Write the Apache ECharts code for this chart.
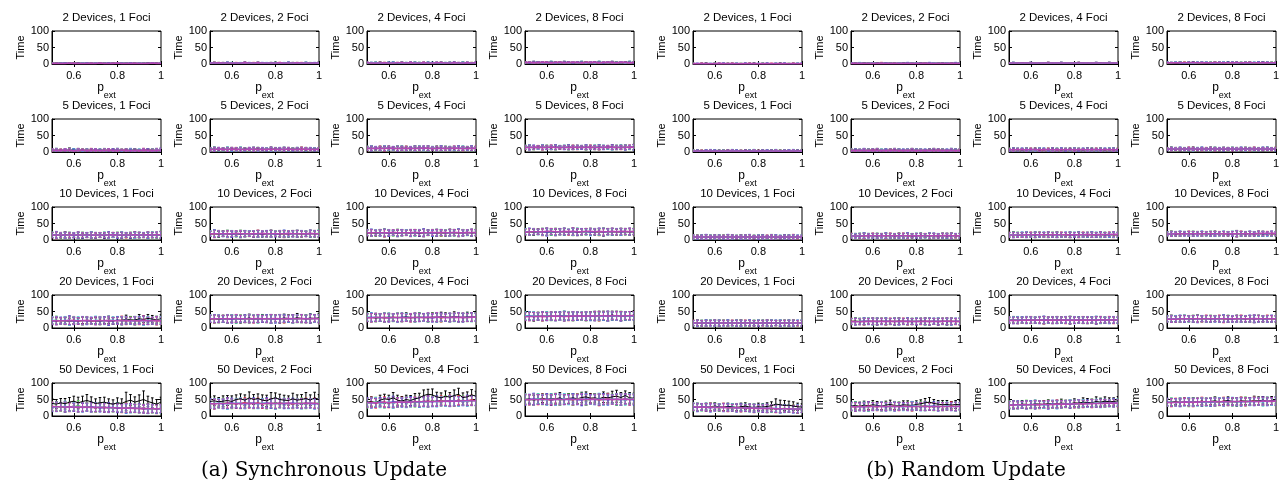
<!DOCTYPE html>
<html><head><meta charset="utf-8">
<script src="https://cdn.jsdelivr.net/npm/echarts@6/dist/echarts.min.js"></script>
<style>html,body{margin:0;padding:0;background:#fff}#c{width:1283px;height:487px}</style>
</head><body><div id="c"></div>
<script>
// ---------- data ----------
const X = [0.50,0.52,0.54,0.56,0.58,0.60,0.62,0.64,0.66,0.68,0.70,0.72,0.74,0.76,0.78,0.80,0.82,0.84,0.86,0.88,0.90,0.92,0.94,0.96,0.98,1.00];
const X_TICKS = [0.6,0.8,1];
const Y_TICKS = [0,50,100];
const DEVICES = [2,5,10,20,50];
const FOCI = [1,2,4,8];
const GROUP_CAPTIONS = ['(a) Synchronous Update','(b) Random Update'];
// series order in every panel: black, red, green, blue, cyan, magenta
// ----- Synchronous update -----
const S2_1 = [[2,2,3,2,2,2,3,2,2,2,2,3,2,2,2,2,3,2,2,2,2,2,3,2,2,2],[2,3,2,2,2,3,2,2,2,3,2,2,2,2,3,2,2,2,2,3,2,2,2,2,3,2],[3,2,2,2,3,2,2,3,2,2,2,2,3,2,2,2,2,3,2,2,2,3,2,2,2,2],[2,2,2,3,2,2,2,2,3,2,2,2,2,3,2,2,2,2,3,2,2,2,2,3,2,2],[2,2,3,2,2,2,2,3,2,2,3,2,2,2,2,2,3,2,2,2,3,2,2,2,2,3],[2,2,2,2,3,2,2,2,2,2,2,3,2,2,2,3,2,2,2,2,2,2,2,3,2,2]];
const S2_1e = [1,1,1,1,1,1,1,1,1,1,1,1,1,1,1,1,1,1,1,1,1,1,1,1,1,1];
const S2_2 = [[3,3,3,4,3,3,3,3,4,3,3,3,3,3,4,3,3,3,3,4,3,3,3,3,3,4],[3,4,3,3,3,3,4,3,3,3,4,3,3,3,3,3,4,3,3,3,3,4,3,3,3,3],[3,3,4,3,3,4,3,3,3,3,3,4,3,3,3,4,3,3,3,3,4,3,3,4,3,3],[4,3,3,3,4,3,3,3,3,4,3,3,4,3,3,3,3,3,4,3,3,3,3,3,4,3],[3,3,3,3,3,4,3,4,3,3,3,3,3,4,3,3,3,4,3,3,3,3,4,3,3,3],[3,3,4,3,3,3,3,3,4,3,3,4,3,3,3,3,4,3,3,3,4,3,3,3,3,3]];
const S2_2e = [1,2,1,1,2,1,1,1,2,1,1,2,1,1,1,2,1,1,2,1,1,1,2,1,1,2];
const S2_4 = [[3,4,3,4,3,3,4,3,4,3,3,4,4,3,3,4,3,4,3,3,4,3,4,3,3,4],[4,3,3,4,4,3,3,4,3,3,4,3,3,4,3,3,4,3,3,4,3,4,3,4,4,3],[3,3,4,3,4,4,3,3,4,4,3,3,4,3,4,3,3,4,4,3,3,3,4,3,4,3],[4,4,3,3,3,4,4,3,3,4,4,3,3,3,4,4,3,3,4,3,4,4,3,3,3,4],[3,4,4,3,3,3,4,4,3,3,3,4,4,3,3,4,4,3,3,4,3,3,4,4,3,3],[4,3,3,3,4,3,3,4,4,3,4,3,3,4,3,3,4,4,3,3,4,3,3,4,3,4]];
const S2_4e = [2,1,2,2,1,2,2,1,2,1,2,2,1,2,2,1,2,2,1,2,2,1,2,2,1,2];
const S2_8 = [[5,4,5,5,4,5,5,5,4,5,5,4,5,5,5,4,5,5,4,5,5,5,4,5,5,4],[4,5,5,4,5,5,4,5,5,5,4,5,5,4,5,5,5,4,5,5,4,5,5,5,4,5],[5,5,4,5,5,4,5,5,5,4,5,5,4,5,5,5,4,5,5,4,5,5,4,5,5,5],[5,4,5,5,5,4,5,4,5,5,5,4,5,5,4,5,5,5,4,5,5,4,5,5,5,4],[4,5,5,5,4,5,5,5,4,5,4,5,5,5,4,5,4,5,5,5,4,5,5,4,5,5],[5,5,4,5,5,5,4,5,5,4,5,5,5,4,5,5,5,4,5,5,5,4,5,5,4,5]];
const S2_8e = [2,2,3,2,2,2,3,2,2,3,2,2,2,3,2,2,2,3,2,2,3,2,2,2,3,2];
const S5_1 = [[5,6,5,4,6,5,5,6,4,5,5,6,5,4,5,6,5,5,4,6,5,5,6,5,4,5],[4,5,6,5,5,4,6,5,5,6,4,5,5,6,5,4,5,6,5,5,4,6,5,5,6,5],[6,5,4,5,6,5,4,5,6,5,5,4,6,5,5,5,6,4,5,6,5,4,5,6,5,5],[5,4,5,6,5,6,5,4,5,5,6,5,4,5,6,5,4,5,6,5,5,5,6,4,5,6],[5,6,5,5,4,5,6,5,5,4,5,6,5,5,4,6,5,5,5,4,6,5,4,5,6,5],[6,5,5,6,5,4,5,6,5,5,6,5,5,6,5,5,6,5,4,5,5,6,5,5,5,6]];
const S5_1e = [4,5,3,4,6,4,5,3,4,5,4,3,5,4,4,5,3,4,5,4,3,5,4,4,5,6];
const S5_2 = [[8,9,7,8,8,9,8,7,9,8,8,9,7,8,9,8,8,7,9,8,9,8,7,8,9,8],[7,8,8,9,7,8,9,8,8,7,9,8,8,9,7,8,8,9,7,8,8,9,8,7,8,9],[9,8,8,7,9,8,7,9,8,8,7,9,8,8,8,9,7,8,8,9,7,8,9,8,8,7],[8,7,9,8,8,7,8,8,7,9,8,8,9,7,8,8,9,8,8,7,8,8,8,9,7,8],[8,9,8,8,9,8,8,9,8,8,9,7,8,9,8,7,8,9,8,8,9,7,8,8,9,8],[8,8,9,8,8,9,8,8,8,9,8,8,8,8,9,8,8,8,9,8,8,8,9,8,8,8]];
const S5_2e = [5,6,5,4,6,5,5,6,4,5,6,5,5,4,6,5,5,6,5,4,5,6,5,5,4,5];
const S5_4 = [[11,12,10,11,11,12,10,11,12,11,10,11,12,11,11,10,12,11,11,12,10,11,11,12,11,10],[10,11,11,12,10,11,11,10,11,12,11,10,11,11,12,10,11,11,10,11,12,11,10,11,11,12],[12,11,10,11,12,10,11,12,10,11,11,12,10,11,10,12,11,10,12,11,11,10,12,11,10,11],[11,10,12,11,11,11,12,10,11,10,12,11,11,12,11,11,10,12,11,10,11,12,11,10,12,11],[11,12,11,10,12,11,10,11,12,11,11,10,12,10,11,12,11,11,10,12,11,11,12,11,11,10],[11,11,11,11,11,12,11,11,11,11,11,11,11,12,11,11,11,11,11,11,12,11,11,11,11,11]];
const S5_4e = [6,7,5,6,7,6,5,7,6,6,5,7,6,6,7,5,6,7,6,5,6,7,6,5,7,6];
const S5_8 = [[14,15,13,14,15,14,13,15,14,14,15,13,14,15,14,14,13,15,14,15,14,13,15,14,14,15],[13,14,14,15,13,14,15,14,13,14,14,15,13,14,14,15,14,13,14,14,15,14,13,14,15,14],[15,14,13,14,14,15,14,13,15,14,13,14,15,14,13,14,15,14,14,13,14,15,14,15,13,14],[14,13,15,14,14,13,14,15,14,13,15,14,14,13,15,14,14,15,13,14,15,14,14,13,14,15],[14,15,14,13,15,14,14,14,15,15,14,14,14,15,14,13,15,14,15,14,13,14,15,14,14,13],[14,14,14,14,14,14,15,14,14,14,14,14,15,14,14,14,14,14,14,15,14,14,14,14,15,14]];
const S5_8e = [6,7,6,5,7,6,6,7,5,6,7,6,6,5,7,6,6,7,6,5,7,6,6,7,6,8];
const S10_1 = [[14,15,13,16,14,15,14,13,15,16,14,15,13,14,16,15,14,15,13,16,15,14,15,16,14,16],[15,14,16,15,13,14,16,15,14,15,13,16,15,14,15,14,16,13,15,14,16,15,14,15,16,15],[16,15,14,14,16,15,13,16,15,14,15,14,16,15,14,16,15,14,16,15,14,15,16,14,15,17],[15,16,15,14,15,13,15,14,16,15,14,15,14,16,15,13,15,16,14,15,15,16,14,15,16,15],[16,15,16,15,14,16,15,15,14,16,15,15,16,14,15,15,16,15,15,14,16,15,15,16,15,16],[15,15,15,15,15,15,15,15,15,15,15,15,15,15,16,15,15,15,15,16,15,15,16,15,16,16]];
const S10_1e = [8,10,7,9,8,7,9,8,7,9,8,7,8,9,7,8,9,7,8,9,8,7,9,8,8,10];
const S10_2 = [[18,19,17,20,18,19,18,17,19,20,18,19,17,18,20,19,18,19,17,20,19,18,19,20,18,19],[19,18,20,19,17,18,20,19,18,19,17,20,19,18,19,18,20,17,19,18,20,19,18,19,20,19],[20,19,18,18,20,19,17,20,19,18,19,18,20,19,18,20,19,18,20,19,18,19,20,18,19,21],[19,20,19,18,19,17,19,18,20,19,18,19,18,20,19,17,19,20,18,19,19,20,18,19,20,19],[20,19,20,19,18,20,19,19,18,20,19,19,20,18,19,19,20,19,19,18,20,19,19,20,19,20],[19,19,19,19,19,19,20,19,19,19,19,19,20,19,19,19,19,19,20,19,19,19,19,20,19,19]];
const S10_2e = [8,11,9,8,10,9,8,10,9,8,9,10,8,9,10,8,9,10,8,9,10,9,8,10,9,10];
const S10_4 = [[21,22,20,23,21,22,21,20,22,23,21,22,20,21,23,22,21,22,20,23,22,21,22,23,21,22],[22,21,23,22,20,21,23,22,21,22,20,23,22,21,22,21,23,20,22,21,23,22,21,22,23,22],[23,22,21,21,23,22,20,23,22,21,22,21,23,22,21,23,22,21,23,22,21,22,23,21,22,24],[22,23,22,21,22,20,22,21,23,22,21,22,21,23,22,20,22,23,21,22,22,23,21,22,23,22],[23,22,23,22,21,23,22,22,21,23,22,22,23,21,22,22,23,22,22,21,23,22,22,23,22,23],[22,22,22,22,22,22,23,22,22,22,22,23,22,22,22,23,22,23,22,22,23,22,22,23,22,23]];
const S10_4e = [9,10,8,9,11,9,8,10,9,8,10,9,9,11,8,9,10,9,8,10,9,11,9,8,10,9];
const S10_8 = [[24,25,23,26,24,25,24,23,25,26,24,25,23,24,26,25,24,25,23,26,25,24,25,26,24,25],[25,24,26,25,23,24,26,25,24,25,23,26,25,24,25,24,26,23,25,24,26,25,24,25,26,25],[26,25,24,24,26,25,23,26,25,24,25,24,26,25,24,26,25,24,26,25,24,25,26,24,25,27],[25,26,25,24,25,23,25,24,26,25,24,25,24,26,25,23,25,26,24,25,25,26,24,25,26,25],[26,25,26,25,24,26,25,25,24,26,25,25,26,24,25,25,26,25,25,24,26,25,25,26,25,26],[24,25,25,25,25,26,26,25,25,26,25,26,25,25,26,26,25,26,25,25,26,25,26,26,25,26]];
const S10_8e = [9,10,9,8,10,11,9,10,9,10,8,11,10,9,9,10,9,10,11,9,10,9,10,9,10,9];
const S20_1 = [[22,21,23,22,20,22,21,23,22,21,22,20,23,22,21,24,23,27,25,24,28,26,29,27,25,28],[23,22,21,23,22,24,21,22,23,21,22,24,22,21,23,22,24,21,23,22,21,24,22,23,21,22],[22,24,22,21,23,22,23,21,24,22,23,21,22,24,22,23,21,22,24,21,23,22,23,21,24,23],[21,22,23,22,24,21,22,23,21,23,22,22,23,21,22,24,22,23,21,22,24,23,21,22,23,22],[24,23,22,24,21,23,24,22,23,22,24,23,21,23,24,22,23,24,22,23,22,21,24,23,22,24],[22,22,22,22,23,22,22,22,23,22,22,22,22,23,22,22,22,23,22,22,22,23,22,22,23,22]];
const S20_1e = [11,12,10,11,13,11,10,12,11,10,12,11,11,13,10,11,12,11,10,12,11,13,11,10,12,11];
const S20_1ke = [9,10,8,9,10,9,8,10,9,8,9,10,9,8,10,9,11,12,10,11,13,10,12,11,10,12];
const S20_2 = [[27,28,26,28,27,29,28,27,28,30,28,27,29,28,27,29,28,30,29,28,31,29,28,30,29,31],[28,27,29,28,26,27,29,28,27,28,26,29,28,27,28,27,29,26,28,27,29,28,27,28,29,28],[29,28,27,27,29,28,26,29,28,27,28,27,29,28,27,29,28,27,29,28,27,28,29,27,28,30],[28,29,28,27,28,26,28,27,29,28,27,28,27,29,28,26,28,29,27,28,28,29,27,28,29,28],[29,28,29,28,27,29,28,28,27,29,28,28,29,27,28,28,29,28,28,27,29,28,28,29,28,29],[28,28,28,28,28,28,29,28,28,28,28,29,28,28,28,29,28,28,29,28,28,29,28,28,29,28]];
const S20_2e = [11,12,11,10,12,11,12,10,11,12,11,12,10,11,13,11,12,11,10,12,11,12,11,13,11,12];
const S20_2ke = [11,12,10,11,12,11,10,12,11,12,11,10,12,11,12,11,13,12,11,12,13,11,12,13,12,13];
const S20_4 = [[31,32,30,32,31,33,32,31,32,34,32,31,33,32,31,33,32,34,33,32,35,33,32,34,33,35],[32,31,33,32,30,31,33,32,31,32,30,33,32,31,32,31,33,30,32,31,33,32,31,32,33,32],[33,32,31,31,33,32,30,33,32,31,32,31,33,32,31,33,32,31,33,32,31,32,33,31,32,34],[32,33,32,31,32,30,32,31,33,32,31,32,31,33,32,30,32,33,31,32,32,33,31,32,33,32],[33,32,33,32,31,33,32,32,31,33,32,32,33,31,32,32,33,32,32,31,33,32,32,33,32,33],[31,31,32,32,32,31,32,32,32,31,32,32,32,32,33,32,33,33,32,32,33,32,33,32,33,33]];
const S20_4e = [12,13,12,11,13,12,11,13,12,11,12,13,12,11,13,12,14,12,11,13,12,14,13,12,13,12];
const S20_4ke = [11,12,11,12,13,12,11,12,13,12,11,12,13,12,12,13,12,14,13,12,14,13,12,14,13,12];
const S20_8 = [[35,36,34,36,35,37,36,35,36,38,36,35,37,36,35,37,36,38,37,36,39,37,36,38,37,39],[36,35,37,36,34,35,37,36,35,36,34,37,36,35,36,35,37,34,36,35,37,36,35,36,37,36],[37,36,35,35,37,36,34,37,36,35,36,35,37,36,35,37,36,35,37,36,35,36,37,35,36,38],[36,37,36,35,36,34,36,35,37,36,35,36,35,37,36,34,36,37,35,36,36,37,35,36,37,36],[37,36,37,36,35,37,36,36,35,37,36,36,37,35,36,36,37,36,36,35,37,36,36,37,36,37],[34,35,35,35,36,35,36,36,36,35,36,36,37,36,36,37,36,37,37,36,37,37,36,37,37,38]];
const S20_8e = [12,13,12,11,13,12,12,13,12,14,12,13,12,11,13,12,14,13,12,15,12,13,14,12,13,12];
const S20_8ke = [12,12,13,12,13,12,12,13,12,13,12,13,12,12,13,13,12,13,14,13,12,14,13,12,13,14];
const S50_1 = [[38,36,40,37,42,45,40,44,47,43,38,40,42,38,36,40,38,44,48,42,46,50,44,40,36,42],[30,28,27,29,26,28,25,27,28,26,25,27,24,26,25,24,22,25,23,24,22,21,23,22,20,22],[28,30,27,26,29,27,33,26,28,27,25,26,27,25,24,26,23,25,24,22,23,24,22,21,23,22],[26,28,29,27,28,26,27,25,26,28,27,24,25,27,26,23,24,22,25,23,24,21,22,23,21,22],[29,27,28,30,27,29,26,28,27,25,26,28,26,24,25,27,24,23,22,24,22,23,21,22,22,21],[28,28,28,27,28,27,27,27,27,26,26,26,26,25,25,25,24,24,24,23,23,23,22,22,22,22]];
const S50_1e = [13,14,12,15,13,12,14,13,12,14,13,12,13,14,12,13,12,14,13,12,13,12,14,12,13,12];
const S50_1ke = [15,14,13,16,14,15,17,16,18,15,14,16,15,14,13,15,14,28,17,16,18,26,16,15,14,15];
const S50_2 = [[44,46,43,45,47,44,50,52,48,55,50,53,48,46,52,55,50,48,47,52,48,50,53,48,55,50],[38,36,39,37,40,38,36,39,41,37,38,40,36,39,38,37,40,39,38,36,39,37,40,38,39,37],[36,39,37,40,38,36,39,37,38,40,37,38,39,36,38,40,37,38,39,37,38,40,36,39,38,40],[39,37,38,36,39,40,37,38,36,38,40,37,38,40,37,38,39,36,38,40,37,38,39,37,36,38],[37,38,40,38,36,38,39,40,37,39,38,36,40,38,39,36,38,40,37,38,39,36,38,40,37,39],[37,37,38,38,38,38,38,38,38,39,38,38,38,38,39,38,38,38,39,38,38,38,38,39,38,38]];
const S50_2e = [14,15,13,14,16,14,13,15,14,13,15,14,13,15,14,16,13,14,15,14,13,15,14,13,15,14];
const S50_2ke = [14,15,13,16,15,17,14,15,16,18,15,14,16,17,19,15,16,15,14,17,16,15,18,16,17,15];
const S50_4 = [[42,44,40,48,52,50,55,48,45,50,47,52,55,62,66,64,58,55,60,57,62,66,56,58,64,60],[40,42,38,41,43,39,42,40,44,41,43,45,42,44,46,43,45,48,44,47,45,48,46,47,49,47],[38,41,43,40,39,42,40,43,41,44,42,40,45,43,42,46,44,43,47,45,44,46,48,46,45,48],[42,39,40,43,41,40,44,42,40,42,45,43,41,44,45,42,46,44,45,46,47,45,44,48,46,47],[39,40,42,38,40,43,39,41,43,40,41,44,42,41,43,44,42,45,43,44,46,43,45,44,47,46],[40,40,40,41,41,41,41,42,42,42,42,43,43,43,43,44,44,44,45,45,45,45,46,46,46,46]];
const S50_4e = [14,15,14,13,15,14,16,14,13,15,14,13,15,14,16,14,15,13,14,16,15,14,13,15,14,15];
const S50_4ke = [12,14,13,15,14,13,16,15,14,13,15,16,14,17,15,18,14,15,16,14,17,18,14,15,16,15];
const S50_8 = [[50,52,48,51,54,50,53,52,55,50,53,55,52,56,58,54,55,52,57,55,58,60,56,62,55,54],[50,48,51,49,52,50,47,51,49,52,50,48,53,50,49,52,51,48,50,53,49,51,50,52,49,51],[52,50,49,53,48,51,50,52,48,50,53,49,51,52,48,50,52,49,51,50,52,48,51,49,52,50],[48,51,52,50,49,52,48,50,51,49,51,52,49,48,52,51,49,50,52,48,51,50,49,52,50,48],[51,49,50,52,51,48,52,49,50,53,48,50,51,52,50,49,51,52,48,51,50,52,50,48,51,52],[50,50,50,50,50,50,50,51,50,50,51,50,50,51,50,50,51,50,50,51,50,51,50,51,50,51]];
const S50_8e = [16,15,17,15,14,16,15,17,16,15,14,16,15,17,16,14,15,17,16,15,14,16,17,15,16,15];
const S50_8ke = [14,13,15,14,13,15,14,13,16,14,15,13,14,16,15,14,13,15,16,14,17,18,15,14,16,15];
// ----- Random update -----
const R2_1 = [[1,1,1,2,1,1,1,1,2,1,1,1,1,1,2,1,1,1,1,1,2,1,1,1,1,1],[1,1,2,1,1,1,1,1,1,2,1,1,1,2,1,1,1,1,2,1,1,1,1,2,1,1],[2,1,1,1,1,2,1,1,1,1,1,2,1,1,1,1,2,1,1,1,1,1,2,1,1,1],[1,2,1,1,1,1,1,2,1,1,1,1,2,1,1,1,1,2,1,1,1,2,1,1,1,2],[1,1,1,1,2,1,1,1,1,1,2,1,1,1,1,2,1,1,1,2,1,1,1,1,2,1],[1,1,1,1,1,1,2,1,1,1,1,1,1,1,1,1,1,1,1,1,1,1,1,1,1,1]];
const R2_1e = [1,0,1,1,0,1,1,1,0,1,1,0,1,1,1,0,1,1,0,1,1,1,0,1,1,1];
const R2_2 = [[2,2,2,3,2,2,3,2,2,2,2,2,3,2,2,2,3,2,2,2,2,3,2,2,2,2],[2,3,2,2,2,2,2,3,2,2,3,2,2,2,2,2,2,3,2,2,2,2,2,3,2,2],[2,2,2,2,3,2,2,2,2,3,2,2,2,2,3,2,2,2,2,2,3,2,2,2,2,3],[3,2,2,2,2,2,2,2,3,2,2,2,2,3,2,2,2,2,3,2,2,2,2,2,3,2],[2,2,3,2,2,3,2,2,2,2,2,3,2,2,2,3,2,2,2,3,2,2,3,2,2,2],[2,2,2,2,2,2,2,2,2,2,2,2,2,2,2,2,2,2,2,2,2,2,2,2,2,2]];
const R2_2e = [1,1,2,1,1,1,1,2,1,1,1,1,1,2,1,1,1,1,2,1,1,1,1,1,2,1];
const R2_4 = [[3,3,2,3,3,3,3,2,3,3,3,3,3,2,3,3,3,3,3,3,2,3,3,3,3,3],[3,2,3,3,3,3,3,3,2,3,3,3,3,3,3,2,3,3,3,3,3,3,2,3,3,3],[3,3,3,3,2,3,3,3,3,3,3,2,3,3,3,3,3,2,3,3,3,3,3,3,2,3],[2,3,3,3,3,3,2,3,3,3,3,3,3,3,2,3,3,3,3,2,3,3,3,3,3,2],[3,3,3,2,3,3,3,3,3,2,3,3,3,3,3,3,2,3,3,3,3,2,3,3,3,3],[3,3,3,3,3,3,3,3,3,3,3,3,3,3,3,3,3,3,3,3,3,3,3,3,3,3]];
const R2_4e = [1,2,1,1,1,2,1,1,1,2,1,1,2,1,1,1,2,1,1,1,2,1,1,2,1,1];
const R2_8 = [[4,4,3,4,4,4,5,4,4,3,4,4,4,4,5,4,4,3,4,4,4,4,5,4,4,4],[4,3,4,4,5,4,4,4,3,4,4,5,4,4,4,3,4,4,4,5,4,4,4,3,4,4],[4,4,4,5,4,3,4,4,4,4,5,4,3,4,4,4,4,5,4,4,3,4,4,4,5,4],[5,4,4,4,3,4,4,5,4,4,4,3,4,4,5,4,4,4,3,4,4,5,4,4,4,3],[4,4,5,4,4,4,3,4,4,5,4,4,4,5,4,4,3,4,4,4,5,4,4,4,3,4],[4,4,4,4,4,4,4,4,4,4,4,4,4,4,4,4,4,4,4,4,4,4,4,4,4,4]];
const R2_8e = [2,1,2,2,1,2,2,1,2,2,1,2,2,2,1,2,2,1,2,2,1,2,2,2,1,2];
const R5_1 = [[3,4,3,3,2,3,4,3,3,3,2,3,4,3,3,3,4,2,3,3,4,3,3,2,3,4],[3,3,4,3,3,2,3,3,4,3,3,4,3,2,3,4,3,3,3,2,3,4,3,3,3,3],[4,3,3,2,3,3,3,4,3,2,3,3,3,4,3,3,2,3,4,3,3,3,2,3,4,3],[2,3,3,4,3,4,3,2,3,3,4,3,3,3,2,3,3,4,3,3,2,3,4,3,3,2],[3,3,2,3,4,3,3,3,2,4,3,3,2,3,4,3,3,3,2,4,3,3,3,4,2,3],[3,3,3,3,3,3,3,3,3,3,3,3,3,3,3,3,3,3,3,3,3,3,3,3,3,3]];
const R5_1e = [3,3,2,3,4,3,2,3,3,4,3,2,3,3,4,2,3,3,3,4,2,3,3,4,3,3];
const R5_2 = [[5,6,5,4,5,5,6,4,5,5,6,5,4,5,6,5,5,4,5,6,5,5,4,6,5,5],[5,4,6,5,5,6,5,5,4,6,5,4,5,6,5,4,6,5,5,4,6,5,5,5,4,6],[6,5,4,5,6,4,5,6,5,5,4,6,5,5,4,6,5,5,6,5,4,6,5,4,6,5],[4,5,5,6,4,5,5,5,6,4,5,5,6,4,5,5,4,6,5,5,5,4,6,5,5,4],[5,5,6,5,5,5,4,6,5,5,5,5,5,6,5,5,6,5,4,5,5,5,5,6,5,5],[5,5,5,5,5,5,5,5,5,5,5,5,5,5,5,5,5,5,5,5,5,5,5,5,5,5]];
const R5_2e = [4,4,3,5,4,4,5,3,4,4,5,4,3,4,5,4,4,3,4,5,4,4,3,5,4,4];
const R5_4 = [[7,8,7,6,7,7,8,6,7,7,8,7,6,7,8,7,7,6,7,8,7,7,6,8,7,7],[7,6,8,7,7,8,7,7,6,8,7,6,7,8,7,6,8,7,7,6,8,7,7,7,6,8],[8,7,6,7,8,6,7,8,7,7,6,8,7,7,6,8,7,7,8,7,6,8,7,6,8,7],[6,7,7,8,6,7,7,7,8,6,7,7,8,6,7,7,6,8,7,7,7,6,8,7,7,6],[7,7,8,7,7,7,6,8,7,7,7,7,7,8,7,7,8,7,6,7,7,7,7,8,7,7],[7,7,7,7,7,7,7,7,7,7,7,7,7,7,7,7,7,7,7,7,7,7,7,7,7,7]];
const R5_4e = [4,5,4,4,5,4,4,5,4,4,5,4,5,4,4,5,4,4,5,4,4,5,4,4,5,4];
const R5_8 = [[9,10,9,8,9,9,10,8,9,9,10,9,8,9,10,9,9,8,9,10,9,9,8,10,9,9],[9,8,10,9,9,10,9,9,8,10,9,8,9,10,9,8,10,9,9,8,10,9,9,9,8,10],[10,9,8,9,10,8,9,10,9,9,8,10,9,9,8,10,9,9,10,9,8,10,9,8,10,9],[8,9,9,10,8,9,9,9,10,8,9,9,10,8,9,9,8,10,9,9,9,8,10,9,9,8],[9,9,10,9,9,9,8,10,9,9,9,9,9,10,9,9,10,9,8,9,9,9,9,10,9,9],[9,9,9,9,9,9,9,9,9,9,9,9,9,9,9,9,9,9,9,9,9,9,9,9,9,9]];
const R5_8e = [4,5,4,5,4,5,5,4,5,4,5,5,4,5,4,5,4,5,5,4,5,4,5,5,4,5];
const R10_1 = [[9,10,8,9,10,9,8,10,9,9,8,10,9,9,8,9,10,9,8,9,9,10,8,9,9,8],[10,9,9,8,9,10,9,9,8,10,9,9,10,8,9,9,8,10,9,9,8,9,9,10,8,9],[8,9,10,9,9,8,10,9,9,8,10,9,8,9,10,9,9,8,10,9,9,8,10,9,9,10],[9,8,9,10,8,9,9,8,10,9,9,8,9,10,9,8,9,9,9,10,8,9,9,8,10,9],[9,9,9,9,10,9,9,9,9,9,9,9,9,9,9,10,9,9,9,9,10,9,9,9,9,9],[9,9,9,9,9,9,9,9,9,9,9,9,9,9,9,9,9,9,9,9,9,9,9,9,9,9]];
const R10_1e = [6,5,6,7,5,6,6,5,7,6,5,6,6,7,5,6,6,5,7,6,5,6,6,7,5,6];
const R10_2 = [[13,14,12,13,14,13,12,14,13,13,12,14,13,13,12,13,14,13,12,13,13,14,12,13,13,12],[14,13,13,12,13,14,13,13,12,14,13,13,14,12,13,13,12,14,13,13,12,13,13,14,12,13],[12,13,14,13,13,12,14,13,13,12,14,13,12,13,14,13,13,12,14,13,13,12,14,13,13,14],[13,12,13,14,12,13,13,12,14,13,13,12,13,14,13,12,13,13,13,14,12,13,13,12,14,13],[13,13,13,13,14,13,13,13,13,13,13,13,13,13,13,14,13,13,13,13,14,13,13,13,13,13],[12,12,12,13,13,13,13,13,13,13,13,13,13,13,13,13,13,13,13,13,13,13,14,13,13,13]];
const R10_2e = [7,6,7,8,6,7,7,6,8,7,6,7,7,8,6,7,7,6,8,7,6,7,7,8,6,7];
const R10_4 = [[16,17,15,16,17,16,15,17,16,16,15,17,16,16,15,16,17,16,15,16,16,17,15,16,16,15],[17,16,16,15,16,17,16,16,15,17,16,16,17,15,16,16,15,17,16,16,15,16,16,17,15,16],[15,16,17,16,16,15,17,16,16,15,17,16,15,16,17,16,16,15,17,16,16,15,17,16,16,17],[16,15,16,17,15,16,16,15,17,16,16,15,16,17,16,15,16,16,16,17,15,16,16,15,17,16],[16,16,16,16,17,16,16,16,16,16,16,16,16,16,16,17,16,16,16,16,17,16,16,16,16,16],[15,15,15,15,16,16,16,16,16,16,16,16,16,16,16,16,16,16,17,16,16,17,16,17,17,17]];
const R10_4e = [7,8,7,7,8,7,8,7,7,8,7,8,7,7,8,7,8,7,7,8,7,8,7,7,8,7];
const R10_8 = [[19,20,18,19,20,19,18,20,19,19,18,20,19,19,18,19,20,19,18,19,19,20,18,19,19,18],[20,19,19,18,19,20,19,19,18,20,19,19,20,18,19,19,18,20,19,19,18,19,19,20,18,19],[18,19,20,19,19,18,20,19,19,18,20,19,18,19,20,19,19,18,20,19,19,18,20,19,19,20],[19,18,19,20,18,19,19,18,20,19,19,18,19,20,19,18,19,19,19,20,18,19,19,18,20,19],[19,19,19,19,20,19,19,19,19,19,19,19,19,19,19,20,19,19,19,19,20,19,19,19,19,19],[18,18,19,19,19,19,19,19,19,19,19,19,19,19,19,19,19,19,19,19,19,20,20,20,20,20]];
const R10_8e = [6,7,6,7,6,7,7,6,7,6,7,7,6,7,6,7,9,7,6,7,6,7,7,6,7,6];
const R20_1 = [[15,16,14,15,16,15,14,16,15,15,14,16,15,15,14,15,16,15,14,15,15,16,14,15,15,14],[16,15,15,14,15,16,15,15,14,16,15,15,16,14,15,15,14,16,15,15,14,15,15,16,14,15],[14,15,16,15,15,14,16,15,15,14,16,15,14,15,16,15,15,14,16,15,15,14,16,15,15,16],[15,14,15,16,14,15,15,14,16,15,15,14,15,16,15,14,15,15,15,16,14,15,15,14,16,15],[15,15,15,15,16,15,15,15,15,15,15,15,15,15,15,16,15,15,15,15,16,15,15,15,15,15],[15,15,15,15,15,15,15,15,15,15,15,15,15,15,15,15,15,15,15,15,15,15,15,15,15,15]];
const R20_1e = [8,9,8,9,8,9,9,8,9,8,9,9,8,9,8,9,8,9,9,8,9,8,9,9,8,9];
const R20_2 = [[20,21,19,20,21,20,19,21,20,20,19,21,20,20,19,20,21,20,19,20,20,21,19,20,20,19],[21,20,20,19,20,21,20,20,19,21,20,20,21,19,20,20,19,21,20,20,19,20,20,21,19,20],[19,20,21,20,20,19,21,20,20,19,21,20,19,20,21,20,20,19,21,20,20,19,21,20,20,21],[20,19,20,21,19,20,20,19,21,20,20,19,20,21,20,19,20,20,20,21,19,20,20,19,21,20],[20,20,20,20,21,20,20,20,20,20,20,20,20,20,20,21,20,20,20,20,21,20,20,20,20,20],[19,19,19,20,20,20,20,20,20,20,20,20,20,20,20,20,20,20,20,20,20,20,21,20,20,20]];
const R20_2e = [9,10,9,10,9,10,10,9,10,9,10,10,9,10,9,10,9,10,10,9,10,9,10,10,9,10];
const R20_4 = [[24,25,23,24,25,24,23,25,24,24,23,25,24,24,23,24,25,24,23,24,24,25,23,24,24,23],[25,24,24,23,24,25,24,24,23,25,24,24,25,23,24,24,23,25,24,24,23,24,24,25,23,24],[23,24,25,24,24,23,25,24,24,23,25,24,23,24,25,24,24,23,25,24,24,23,25,24,24,25],[24,23,24,25,23,24,24,23,25,24,24,23,24,25,24,23,24,24,24,25,23,24,24,23,25,24],[24,24,24,24,25,24,24,24,24,24,24,24,24,24,24,25,24,24,24,24,25,24,24,24,24,24],[23,23,23,24,24,24,24,24,24,24,24,24,24,24,24,24,24,24,24,24,24,25,24,25,24,25]];
const R20_4e = [9,10,10,9,10,10,9,10,11,9,10,10,9,10,11,10,9,10,10,9,11,10,9,10,10,9];
const R20_8 = [[28,29,27,28,29,28,27,29,28,28,27,29,28,28,27,28,29,28,27,28,28,29,27,28,28,27],[29,28,28,27,28,29,28,28,27,29,28,28,29,27,28,28,27,29,28,28,27,28,28,29,27,28],[27,28,29,28,28,27,29,28,28,27,29,28,27,28,29,28,28,27,29,28,28,27,29,28,28,29],[28,27,28,29,27,28,28,27,29,28,28,27,28,29,28,27,28,28,28,29,27,28,28,27,29,28],[28,28,28,28,29,28,28,28,28,28,28,28,28,28,28,29,28,28,28,28,29,28,28,28,28,28],[27,27,27,28,28,28,28,28,28,28,28,28,28,28,28,28,28,28,28,28,29,28,28,28,28,28]];
const R20_8e = [9,10,9,10,10,9,10,11,9,10,10,9,10,11,10,9,10,10,9,10,11,10,9,10,10,9];
const R50_1 = [[28,26,27,29,28,30,28,27,29,28,26,28,30,27,26,28,27,29,31,36,34,32,33,30,28,27],[28,26,27,25,28,26,25,27,24,26,25,23,25,24,22,24,23,22,24,21,23,22,21,22,20,21],[26,28,25,27,26,28,24,26,25,24,26,25,23,24,25,22,24,23,21,23,22,24,21,22,21,22],[27,25,28,26,24,27,26,25,27,25,24,26,24,25,23,25,22,24,23,22,21,23,22,20,22,21],[29,27,26,28,27,25,27,26,25,27,25,24,26,23,24,23,25,22,23,24,22,21,23,21,22,20],[28,27,27,27,26,26,26,26,25,25,25,25,24,24,24,23,23,23,23,22,22,22,22,21,21,21]];
const R50_1e = [11,12,10,11,12,11,10,12,11,10,12,11,10,11,12,10,11,12,10,11,12,11,10,11,12,10];
const R50_1ke = [10,11,9,10,11,10,9,11,10,9,10,11,10,9,10,11,10,11,12,16,14,15,12,13,11,10];
const R50_2 = [[30,32,29,33,31,34,32,30,33,35,32,31,34,33,32,35,37,40,42,38,36,34,35,33,35,34],[29,27,30,28,31,29,27,30,28,29,31,28,30,29,28,30,29,31,28,29,30,28,29,31,28,30],[27,30,28,29,27,30,29,28,30,27,29,30,28,30,29,28,31,29,30,28,29,30,28,29,30,29],[30,28,29,27,30,28,30,29,27,30,28,29,30,28,31,29,28,30,29,31,28,29,30,28,29,30],[28,29,27,30,28,29,28,30,29,28,30,29,27,29,30,31,28,29,30,29,30,28,31,29,28,29],[28,28,28,28,29,29,29,29,29,29,29,29,29,29,29,29,29,29,29,29,29,29,29,29,29,29]];
const R50_2e = [12,13,11,12,13,12,11,13,12,11,13,12,11,12,13,11,12,13,11,12,13,12,11,12,13,11];
const R50_2ke = [12,11,13,12,11,13,12,11,12,13,12,11,12,13,12,11,12,13,14,12,11,13,12,11,12,13];
const R50_4 = [[34,35,33,36,35,34,37,36,35,38,36,37,39,38,37,40,39,42,41,40,44,42,45,43,44,46],[33,35,32,34,33,35,34,33,36,34,35,36,34,36,37,35,37,36,38,37,39,38,37,39,40,39],[35,32,34,33,36,33,35,36,34,36,34,35,37,35,36,38,36,38,37,39,37,40,39,38,39,41],[32,34,35,33,34,36,33,35,35,33,37,34,36,37,35,37,38,37,39,38,38,39,40,38,41,40],[34,33,32,35,33,34,36,34,33,35,36,34,35,36,38,36,37,39,36,38,40,37,38,40,39,40],[33,33,34,34,34,34,35,35,35,35,35,36,36,36,36,37,37,37,37,38,38,38,39,39,39,39]];
const R50_4e = [11,12,11,10,12,11,12,11,10,12,11,12,11,10,12,11,12,11,10,12,11,12,11,10,12,11];
const R50_4ke = [10,11,10,11,12,10,11,10,12,11,10,11,12,10,11,12,11,13,12,11,14,12,13,12,11,13];
const R50_8 = [[40,42,44,41,43,42,44,43,45,42,44,46,43,45,47,44,42,46,45,44,47,46,48,45,47,48],[42,40,43,41,44,42,40,43,45,42,44,41,43,45,42,44,43,45,42,44,46,43,45,44,43,45],[40,43,41,44,42,40,43,42,41,44,42,45,42,43,44,42,45,43,46,43,44,45,43,46,44,43],[43,41,42,40,43,44,41,43,42,43,41,43,44,42,45,43,44,42,44,45,43,44,46,43,45,44],[41,42,40,43,41,43,42,41,44,41,43,42,44,43,42,45,42,44,43,42,45,44,42,45,43,46],[41,41,41,42,42,42,42,42,43,43,43,43,43,43,43,44,44,44,44,44,44,44,45,45,45,45]];
const R50_8e = [11,12,11,12,11,12,12,11,12,11,12,12,11,12,11,12,11,12,12,11,12,11,12,12,11,12];
const R50_8ke = [10,11,9,10,11,10,12,11,10,11,10,12,11,10,11,10,12,11,10,11,13,12,11,10,12,11];

const SYNC = [[S2_1,S2_2,S2_4,S2_8],[S5_1,S5_2,S5_4,S5_8],[S10_1,S10_2,S10_4,S10_8],[S20_1,S20_2,S20_4,S20_8],[S50_1,S50_2,S50_4,S50_8]];
const SYNC_E = [[S2_1e,S2_2e,S2_4e,S2_8e],[S5_1e,S5_2e,S5_4e,S5_8e],[S10_1e,S10_2e,S10_4e,S10_8e],[S20_1e,S20_2e,S20_4e,S20_8e],[S50_1e,S50_2e,S50_4e,S50_8e]];
const SYNC_KE = [[null,null,null,null],[null,null,null,null],[null,null,null,null],[S20_1ke,S20_2ke,S20_4ke,S20_8ke],[S50_1ke,S50_2ke,S50_4ke,S50_8ke]];
const RAND = [[R2_1,R2_2,R2_4,R2_8],[R5_1,R5_2,R5_4,R5_8],[R10_1,R10_2,R10_4,R10_8],[R20_1,R20_2,R20_4,R20_8],[R50_1,R50_2,R50_4,R50_8]];
const RAND_E = [[R2_1e,R2_2e,R2_4e,R2_8e],[R5_1e,R5_2e,R5_4e,R5_8e],[R10_1e,R10_2e,R10_4e,R10_8e],[R20_1e,R20_2e,R20_4e,R20_8e],[R50_1e,R50_2e,R50_4e,R50_8e]];
const RAND_KE = [[null,null,null,null],[null,null,null,null],[null,null,null,null],[null,null,null,null],[R50_1ke,R50_2ke,R50_4ke,R50_8ke]];

// ---------- layout & style ----------
const COLORS = ['#000000','#e8262b','#55c24f','#2f4fd6','#45cfe0','#b548b5'];
const COL_X = [52,210,367,525,693,851,1009,1167];
const ROW_Y = [31,119,207,295,383];
const PW = 109, PH = 33;
const FONT = 'Liberation Sans, Arial, sans-serif';

const groups = [{d:SYNC,e:SYNC_E,ke:SYNC_KE},{d:RAND,e:RAND_E,ke:RAND_KE}];
const grid=[], xAxis=[], yAxis=[], series=[], graphic=[];
const xTop=[], yRight=[];

function errItem(params, api){
  const x=api.value(0), lo=api.value(1), hi=api.value(2);
  const a=api.coord([x,lo]), b=api.coord([x,hi]);
  const c=api.visual('color'), w=1.3;
  return {type:'group',children:[
    {type:'line',shape:{x1:a[0],y1:a[1],x2:b[0],y2:b[1]},style:{stroke:c,lineWidth:1}},
    {type:'line',shape:{x1:a[0]-w,y1:a[1],x2:a[0]+w,y2:a[1]},style:{stroke:c,lineWidth:1}},
    {type:'line',shape:{x1:b[0]-w,y1:b[1],x2:b[0]+w,y2:b[1]},style:{stroke:c,lineWidth:1}}
  ]};
}

groups.forEach((g,gi)=>{
  DEVICES.forEach((dev,r)=>{
    FOCI.forEach((fo,c)=>{
      const idx=grid.length;
      const left=COL_X[gi*4+c], top=ROW_Y[r];
      grid.push({left:left,top:top,width:PW,height:PH,show:true,borderColor:'#000',borderWidth:1,backgroundColor:'#fff'});
      xAxis.push({type:'value',gridIndex:idx,min:0.5,max:1,
        axisLine:{show:true,onZero:false,lineStyle:{color:'#000',width:1}},
        splitLine:{show:false},
        axisTick:{show:true,inside:true,length:3,customValues:X_TICKS,lineStyle:{color:'#000'}},
        axisLabel:{show:true,customValues:X_TICKS,color:'#000',fontSize:11,fontFamily:FONT,margin:6,
          formatter:v=>v===1?'1':String(v)},
        name:'{p|p}{s|ext}',nameLocation:'middle',nameGap:15,
        nameTextStyle:{rich:{p:{fontSize:12,fontFamily:FONT,color:'#000',verticalAlign:'top',lineHeight:18},
                             s:{fontSize:9,fontFamily:FONT,color:'#000',verticalAlign:'bottom',lineHeight:18}}}});
      yAxis.push({type:'value',gridIndex:idx,min:0,max:100,interval:50,
        axisLine:{show:true,lineStyle:{color:'#000',width:1}},
        splitLine:{show:false},
        axisTick:{show:true,inside:true,length:3,lineStyle:{color:'#000'}},
        axisLabel:{color:'#000',fontSize:11,fontFamily:FONT,margin:3},
        name:'Time',nameLocation:'middle',nameGap:26,
        nameTextStyle:{fontSize:11,fontFamily:FONT,color:'#000'}});
      // box ticks on the top and right edges
      xTop.push({type:'value',gridIndex:idx,position:'top',min:0.5,max:1,
        axisLine:{show:false},splitLine:{show:false},axisLabel:{show:false},
        axisTick:{show:true,inside:true,length:3,customValues:X_TICKS,lineStyle:{color:'#000'}}});
      yRight.push({type:'value',gridIndex:idx,position:'right',min:0,max:100,interval:50,
        axisLine:{show:false},splitLine:{show:false},axisLabel:{show:false},
        axisTick:{show:true,inside:true,length:3,lineStyle:{color:'#000'}}});
      graphic.push({type:'text',x:left+PW/2,y:top-13,
        style:{text:dev+' Devices, '+fo+' Foci',textAlign:'center',textVerticalAlign:'middle',
          font:'11.5px '+FONT,fill:'#000'}});
      const means=g.d[r][c], err=g.e[r][c], kerr=g.ke[r][c];
      means.forEach((m,si)=>{
        const e = (si===0 && kerr) ? kerr : err;
        series.push({type:'custom',xAxisIndex:idx,yAxisIndex:idx,renderItem:errItem,clip:true,
          itemStyle:{color:COLORS[si]},encode:{x:0,y:[1,2]},silent:true,
          data:X.map((x,i)=>[x,m[i]-e[i],m[i]+e[i]])});
        series.push({type:'line',xAxisIndex:idx,yAxisIndex:idx,symbol:'none',silent:true,clip:true,
          lineStyle:{color:COLORS[si],width:si===5?1.6:1},itemStyle:{color:COLORS[si]},
          data:X.map((x,i)=>[x,m[i]])});
      });
    });
  });
});

graphic.push({type:'text',x:324,y:471,style:{text:GROUP_CAPTIONS[0],textAlign:'center',textVerticalAlign:'middle',font:'20px DejaVu Serif, serif',fill:'#000'}});
graphic.push({type:'text',x:966,y:471,style:{text:GROUP_CAPTIONS[1],textAlign:'center',textVerticalAlign:'middle',font:'20px DejaVu Serif, serif',fill:'#000'}});

const chart=echarts.init(document.getElementById('c'),null,{renderer:'canvas'});
chart.setOption({animation:false,backgroundColor:'#fff',grid,
  xAxis:xAxis.concat(xTop),yAxis:yAxis.concat(yRight),series,graphic});
</script></body></html>
